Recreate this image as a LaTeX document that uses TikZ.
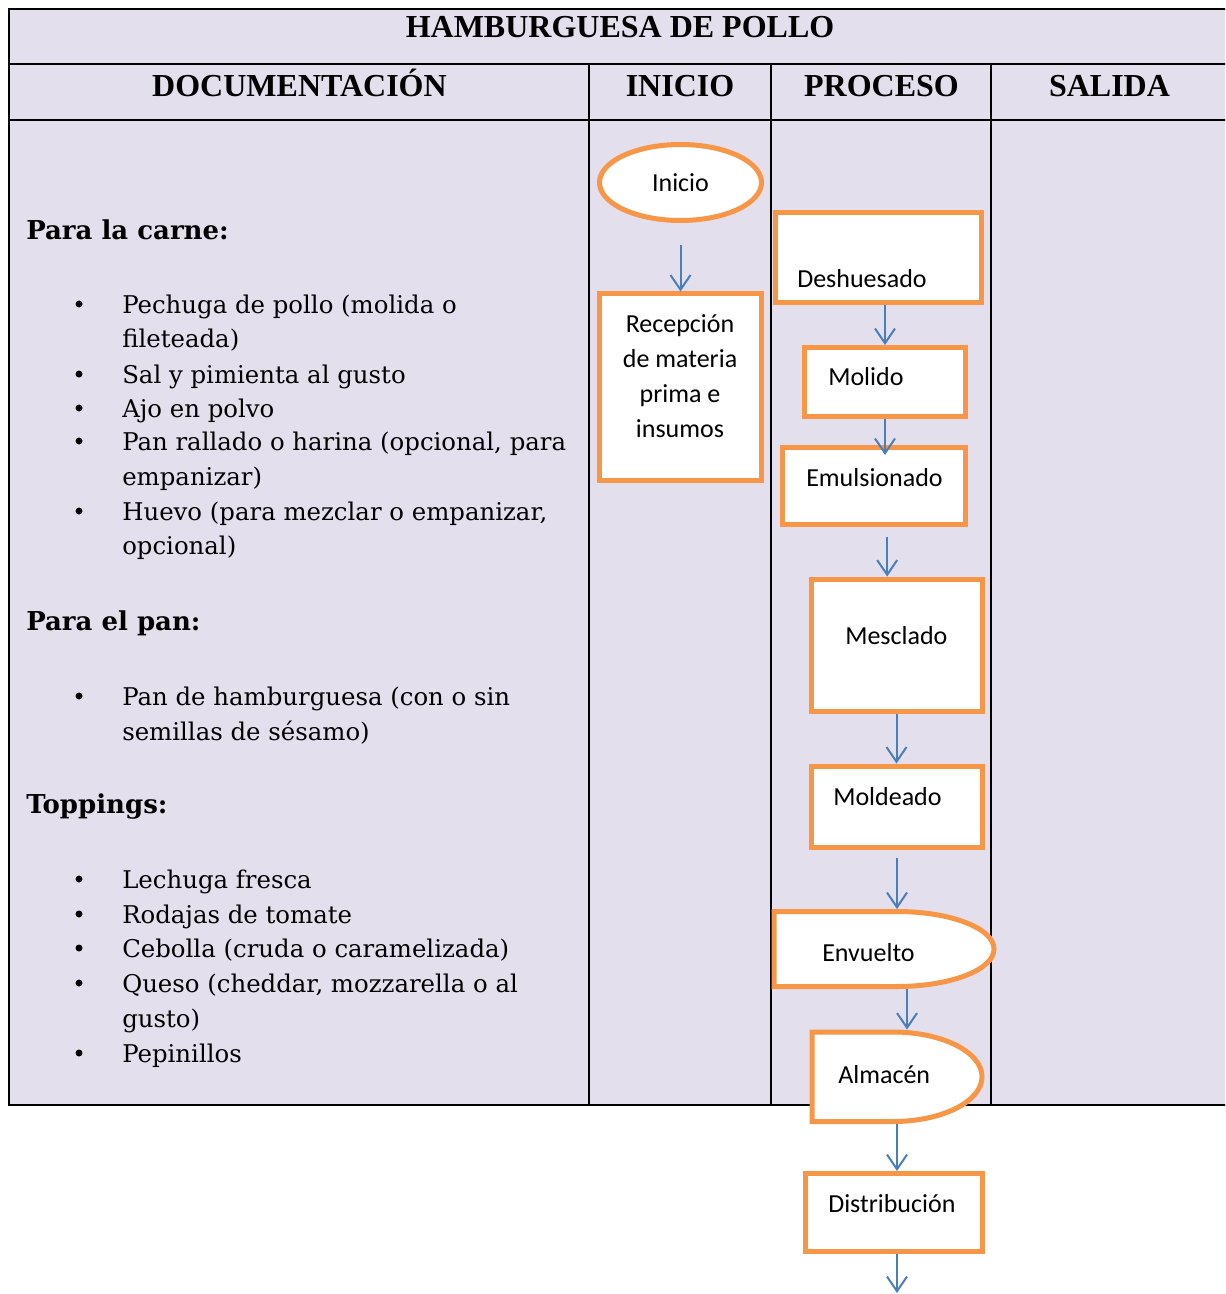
\documentclass[tikz,border=0pt]{standalone}
\usepackage{fontspec}
\newfontfamily\docfont{DejaVu Serif}
\newfontfamily\headfont{Liberation Serif}
\newfontfamily\boxfont{Carlito}
\usetikzlibrary{arrows.meta,shapes.geometric,calc}
\definecolor{lavender}{HTML}{E4DFEC}
\definecolor{boxorange}{HTML}{F79646}
\definecolor{flowblue}{HTML}{4A7EBB}
\tikzset {>={Straight Barb[length=11pt,width=15pt]}}
\tikzset {
  tabline/.style={line width=0.8pt},
  tabhead/.style={font=\headfont\bfseries\fontsize{24}{28}\selectfont, anchor=base, inner sep=0},
  dochead/.style={font=\docfont\bfseries\fontsize{19.5}{26}\selectfont, anchor=base west, inner sep=0},
  docitem/.style={font=\docfont\fontsize{18.3}{26}\selectfont, anchor=base west, inner sep=0},
  stepline/.style={draw=boxorange, line width=3.75pt, fill=white},
  stepbox/.style={stepline, rectangle, inner sep=0},
  boxlabel/.style={font=\boxfont\fontsize{19.5}{26.25}\selectfont, anchor=base west, inner sep=0},
  flow/.style={->, draw=flowblue, line width=1.5pt}
}

\begin{document}
\begin{tikzpicture}[x=0.75pt,y=-0.75pt]
\useasboundingbox (0,0) rectangle (1225,1294);
\clip (0,0) rectangle (1225,1294);

% Table background and rules
\fill [lavender] (9,9) rectangle (1240,1105);
\draw [tabline] (1240,9) -- (9,9) -- (9,1105) -- (1240,1105);
\draw [tabline] (9,64) -- (1240,64);
\draw [tabline] (9,120) -- (1240,120);
\draw [tabline] (589,64) -- (589,1105);
\draw [tabline] (771,64) -- (771,1105);
\draw [tabline] (991,64) -- (991,1105);

% Headings
\node [tabhead] (title) at (620,38) {HAMBURGUESA DE POLLO};
\node [tabhead] (h-doc) at (299.5,96.5) {DOCUMENTACIÓN};
\node [tabhead] (h-ini) at (680,96.5) {INICIO};
\node [tabhead] (h-pro) at (881.5,96.5) {PROCESO};
\node [tabhead] (h-sal) at (1109.5,96.5) {SALIDA};

% Documentation: meat
\node [dochead] (carne) at (26,240) {Para la carne:};
\fill (79,304) circle (3.5);
\node [docitem] (c1) at (122,313) {Pechuga de pollo (molida o};
\node [docitem] (c1b) at (122,347) {fileteada)};
\fill (79,374) circle (3.5);
\node [docitem] (c2) at (122,383) {Sal y pimienta al gusto};
\fill (79,408) circle (3.5);
\node [docitem] (c3) at (122,417) {Ajo en polvo};
\fill (79,441) circle (3.5);
\node [docitem] (c4) at (122,450) {Pan rallado o harina (opcional, para};
\node [docitem] (c4b) at (122,485) {empanizar)};
\fill (79,511) circle (3.5);
\node [docitem] (c5) at (122,520) {Huevo (para mezclar o empanizar,};
\node [docitem] (c5b) at (122,554) {opcional)};

% Documentation: bread
\node [dochead] (pan) at (26,630) {Para el pan:};
\fill (79,696) circle (3.5);
\node [docitem] (p1) at (122,705) {Pan de hamburguesa (con o sin};
\node [docitem] (p1b) at (122,740) {semillas de sésamo)};

% Documentation: toppings
\node [dochead] (top) at (26,813) {Toppings:};
\fill (79,879) circle (3.5);
\node [docitem] (t1) at (122,888) {Lechuga fresca};
\fill (79,914) circle (3.5);
\node [docitem] (t2) at (122,923) {Rodajas de tomate};
\fill (79,948) circle (3.5);
\node [docitem] (t3) at (122,957) {Cebolla (cruda o caramelizada)};
\fill (79,983) circle (3.5);
\node [docitem] (t4) at (122,992) {Queso (cheddar, mozzarella o al};
\node [docitem] (t4b) at (122,1027) {gusto)};
\fill (79,1053) circle (3.5);
\node [docitem] (t5) at (122,1062) {Pepinillos};

% Start column
\node [stepbox, ellipse, minimum width=121.5pt, minimum height=57pt,
       font=\boxfont\fontsize{19.5}{23}\selectfont] (inicio) at (680.5,182.5) {Inicio};
\node [stepbox, minimum width=121.5pt, minimum height=139.5pt] (recep) at (680.5,387) {};
\node [boxlabel, anchor=center, align=center] (recep-t) at (680,376)
      {Recepción\\de materia\\prima e\\insumos};

% Process column: boxes
\node [stepbox, minimum width=154.5pt, minimum height=67.5pt] (deshu) at (878,258) {};
\node [boxlabel] (deshu-t) at (797,287) {Deshuesado};
\node [stepbox, minimum width=120.75pt, minimum height=51.4pt] (molido) at (885,381.75) {};
\node [boxlabel] (molido-t) at (828,385) {Molido};
\node [stepbox, minimum width=136.9pt, minimum height=57.4pt] (emul) at (874.25,485.75) {};
\node [boxlabel] (emul-t) at (806,486) {Emulsionado};
\node [stepbox, minimum width=128.25pt, minimum height=99pt] (mescl) at (896.5,645) {};
\node [boxlabel] (mescl-t) at (845,644) {Mesclado};
\node [stepbox, minimum width=128.25pt, minimum height=60.75pt] (moldea) at (896.5,806.5) {};
\node [boxlabel] (moldea-t) at (833,805) {Moldeado};

% Delay shapes
\filldraw [stepline] (774,911.5) -- (897,911.5)
  arc [start angle=-90, end angle=90, x radius=97, y radius=37.5] -- (774,986.5) -- cycle;
\node [boxlabel] (envu-t) at (822,961) {Envuelto};
\coordinate (envu-n) at (897,909);
\coordinate (envu-s) at (907,989);

\filldraw [stepline] (812,1032) -- (893,1032)
  arc [start angle=-90, end angle=90, x radius=89, y radius=44.75] -- (812,1121.5) -- cycle;
\node [boxlabel] (almac-t) at (838,1083) {Almacén};
\coordinate (almac-n) at (907,1029.5);
\coordinate (almac-s) at (897,1124);

\node [stepbox, minimum width=132.75pt, minimum height=58.5pt] (distr) at (893.5,1212.5) {};
\node [boxlabel] (distr-t) at (828,1212) {Distribución};
\coordinate (exit) at (897,1293);

% Draw flow arrows
\draw [flow] ([yshift=-16.5pt]inicio.south) -- (recep.north);
\draw [flow] (molido.north |- deshu.south) -- (molido.north);
\draw [flow] (molido.south) -- ([yshift=-7.5pt]molido.south |- emul.north);
\draw [flow] ([xshift=-7pt,yshift=-8pt]mescl.north |- emul.south) -- ([xshift=-7pt]mescl.north);
\draw [flow] (mescl.south) -- (moldea.north);
\draw [flow] ([yshift=-6pt]envu-n |- moldea.south) -- (envu-n);
\draw [flow] (envu-s) -- (almac-n);
\draw [flow] (almac-s) -- (almac-s |- distr.north);
\draw [flow] (exit |- distr.south) -- (exit);

\end{tikzpicture}
\end{document}
